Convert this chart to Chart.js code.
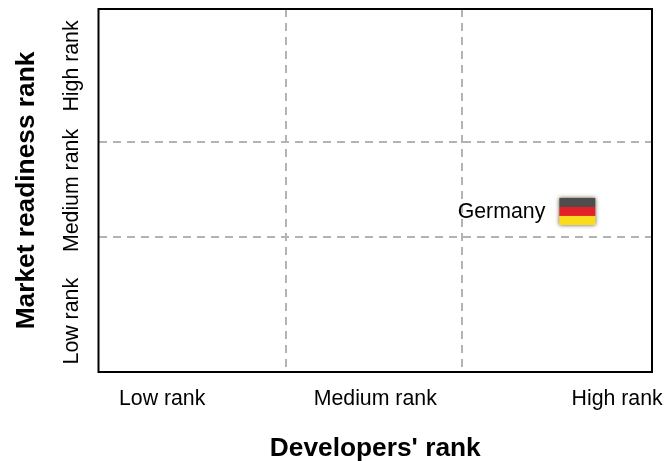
<!DOCTYPE html>
<html lang="en">
<head>
<meta charset="UTF-8">
<title>Market readiness vs developers</title>
<script src="https://cdn.jsdelivr.net/npm/chart.js"></script>
<style>
    html, body { margin: 0; padding: 0; background: #fff; }
    canvas { display: block; }
</style>
</head>
<body>
<canvas id="chart" width="665" height="461"></canvas>
<script>
    // data, both axes on a 0-100 scale
    const rankLabels = ["Low rank", "Medium rank", "High rank"];
    const xLabelAt = [11.5, 50, 93.7];
    const yLabelAt = [14, 50, 84.3];
    const xDividers = [33.9, 65.6];
    const yDividers = [37.2, 63.4];
    const countries = ["Germany"];
    const developersRank = [86.5];
    const marketRank = [44.1];
    const xTitle = "Developers' rank";
    const yTitle = "Market readiness rank";

    const FONT = "'Liberation Sans', Arial, sans-serif";

    // flag icon with soft edge
    function makeFlag() {
        const c = document.createElement("canvas");
        c.width = 48;
        c.height = 38;
        const g = c.getContext("2d");
        g.shadowColor = "rgba(70,70,30,0.9)";
        g.shadowBlur = 4;
        g.fillStyle = "#555";
        g.fillRect(6, 5, 36, 27);
        g.shadowBlur = 0;
        g.shadowColor = "transparent";
        g.fillStyle = "#4d4d4d";
        g.fillRect(6, 5, 36, 9);
        g.fillStyle = "#e2202a";
        g.fillRect(6, 14, 36, 9);
        g.fillStyle = "#fbdc1c";
        g.fillRect(6, 23, 36, 9);
        return c;
    }

    function tickLabel(positions, value) {
        const i = positions.indexOf(value);
        return i >= 0 ? rankLabels[i] : "";
    }

    const framePlugin = {
        id: "frame",
        afterDatasetsDraw(chart) {
            const a = chart.chartArea;
            const ctx = chart.ctx;
            ctx.save();
            ctx.strokeStyle = "#000";
            ctx.lineWidth = 2;
            ctx.strokeRect(a.left, a.top, a.right - a.left, a.bottom - a.top);
            // country names, left of the flag
            ctx.fillStyle = "#000";
            ctx.font = "21.3px " + FONT;
            ctx.textAlign = "right";
            ctx.textBaseline = "middle";
            chart.getDatasetMeta(0).data.forEach((pt, i) => {
                ctx.fillText(countries[i], pt.x - 32, pt.y + 0.5);
            });
            ctx.restore();
        }
    };

    // keep the plot box fixed, labels may hang over its ends
    function noMargins(axis) {
        axis.paddingLeft = 0;
        axis.paddingRight = 0;
        axis.paddingTop = 0;
        axis.paddingBottom = 0;
    }

    new Chart(document.getElementById("chart"), {
        type: "scatter",
        data: {
            datasets: [{
                data: developersRank.map((x, i) => ({ x: x, y: marketRank[i] })),
                pointStyle: makeFlag(),
                pointRadius: 20
            }]
        },
        options: {
            responsive: false,
            animation: false,
            layout: { autoPadding: false, padding: { top: 9, right: 13, left: 0, bottom: 0 } },
            plugins: { legend: { display: false }, tooltip: { enabled: false } },
            scales: {
                x: {
                    type: "linear",
                    min: 0,
                    max: 100,
                    afterBuildTicks(axis) {
                        axis.ticks = xLabelAt.concat(xDividers).sort((a, b) => a - b).map(v => ({ value: v }));
                    },
                    afterFit(axis) { axis.height = 89; noMargins(axis); },
                    ticks: {
                        autoSkip: false,
                        maxRotation: 0,
                        padding: 14,
                        color: "#000",
                        font: { family: FONT, size: 21.3 },
                        callback: v => tickLabel(xLabelAt, v)
                    },
                    grid: {
                        drawTicks: false,
                        lineWidth: 2,
                        color: c => xDividers.includes(c.tick && c.tick.value) ? "#b3b3b3" : "transparent"
                    },
                    border: { display: false, dash: [8, 6] },
                    title: {
                        display: true,
                        text: xTitle,
                        color: "#000",
                        padding: { top: 0, bottom: -4 },
                        font: { family: FONT, size: 26.3, weight: "bold" }
                    }
                },
                y: {
                    type: "linear",
                    min: 0,
                    max: 100,
                    afterBuildTicks(axis) {
                        axis.ticks = yLabelAt.concat(yDividers).sort((a, b) => a - b).map(v => ({ value: v }));
                    },
                    afterFit(axis) { axis.width = 98.5; noMargins(axis); },
                    ticks: {
                        autoSkip: false,
                        minRotation: 90,
                        maxRotation: 90,
                        crossAlign: "center",
                        padding: -35,
                        color: "#000",
                        font: { family: FONT, size: 21.3 },
                        callback: v => tickLabel(yLabelAt, v)
                    },
                    grid: {
                        drawTicks: false,
                        lineWidth: 2,
                        color: c => yDividers.includes(c.tick && c.tick.value) ? "#b3b3b3" : "transparent"
                    },
                    border: { display: false, dash: [8, 6] },
                    title: {
                        display: true,
                        text: yTitle,
                        color: "#000",
                        padding: { top: 11, bottom: 0 },
                        font: { family: FONT, size: 26.3, weight: "bold" }
                    }
                }
            }
        },
        plugins: [framePlugin]
    });
</script>
</body>
</html>
